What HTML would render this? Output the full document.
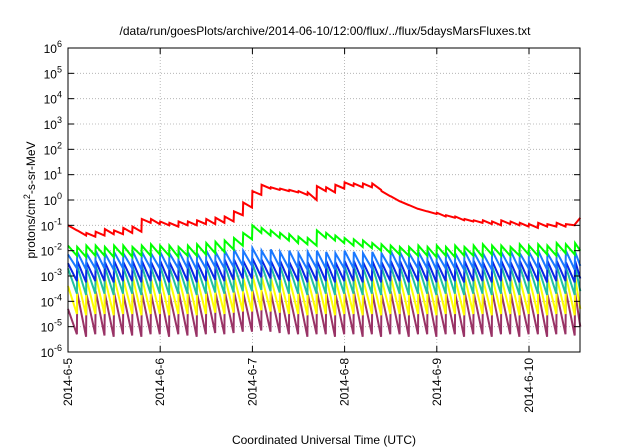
<!DOCTYPE html>
<html><head><meta charset="utf-8"><style>
html,body{margin:0;padding:0;background:#fff;}
svg{display:block;font-family:"Liberation Sans",sans-serif;}
</style></head><body>
<svg id="chart" width="640" height="448" xmlns="http://www.w3.org/2000/svg">
<text x="325" y="35" font-size="12" text-anchor="middle">/data/run/goesPlots/archive/2014-06-10/12:00/flux/../flux/5daysMarsFluxes.txt</text>
<text x="324" y="444" font-size="12" text-anchor="middle">Coordinated Universal Time (UTC)</text>
<text transform="translate(35,200) rotate(-90)" font-size="12" text-anchor="middle">protons/cm<tspan dy="-5" font-size="9">2</tspan><tspan dy="5">-s-sr-MeV</tspan></text>
<g id="grid"></g><g id="series"></g><g id="axes"></g>
</svg>
<script>
const dayLabels=["2014-6-5","2014-6-6","2014-6-7","2014-6-8","2014-6-9","2014-6-10"];
const yExponents=[-6,-5,-4,-3,-2,-1,0,1,2,3,4,5,6];
const toothTimes=[0.0,0.1,0.2,0.3,0.4,0.5,0.6,0.7,0.8,0.9,1.0,1.1,1.2,1.3,1.4,1.5,1.6,1.7,1.8,1.9,2.0,2.1,2.2,2.3,2.4,2.5,2.6,2.7,2.8,2.9,3.0,3.1,3.2,3.3,3.4,3.5,3.6,3.7,3.8,3.9,4.0,4.1,4.2,4.3,4.4,4.5,4.6,4.7,4.8,4.9,5.0,5.1,5.2,5.3,5.4,5.5];
const endTime=5.56;
// log10 flux at start (peak) and end (trough) of each tooth
const redPeak=[-1.0,-1.2,-1.3,-1.25,-1.15,-1.2,-1.1,-1.05,-0.75,-0.75,-0.85,-0.9,-0.85,-0.85,-0.8,-0.75,-0.7,-0.65,-0.45,-0.1,0.35,0.6,0.5,0.45,0.4,0.35,0.3,0.55,0.5,0.6,0.7,0.65,0.65,0.65,0.35,0.15,-0.05,-0.2,-0.35,-0.45,-0.5,-0.6,-0.65,-0.75,-0.8,-0.8,-0.85,-0.8,-0.85,-0.9,-0.95,-0.9,-0.95,-0.9,-0.95,-0.95];
const redTrough=[-1.2,-1.4,-1.45,-1.4,-1.35,-1.35,-1.3,-1.25,-0.9,-0.95,-1.0,-1.05,-1.0,-1.0,-0.95,-0.95,-0.9,-0.85,-0.6,-0.3,0.2,0.45,0.4,0.35,0.3,0.2,0.0,0.35,0.3,0.45,0.55,0.5,0.5,0.4,0.15,-0.05,-0.2,-0.35,-0.45,-0.55,-0.65,-0.7,-0.8,-0.85,-0.9,-0.95,-1.0,-0.95,-1.0,-1.05,-1.1,-1.05,-1.05,-1.05,-1.0,-0.7];
const greenPeak=[-1.8,-1.85,-1.8,-1.8,-1.85,-1.8,-1.8,-1.85,-1.8,-1.75,-1.8,-1.8,-1.85,-1.8,-1.75,-1.7,-1.65,-1.6,-1.5,-1.3,-1.0,-1.1,-1.2,-1.3,-1.35,-1.45,-1.5,-1.2,-1.3,-1.4,-1.5,-1.55,-1.6,-1.7,-1.75,-1.8,-1.85,-1.85,-1.8,-1.85,-1.8,-1.85,-1.8,-1.85,-1.8,-1.75,-1.8,-1.8,-1.85,-1.75,-1.8,-1.75,-1.8,-1.7,-1.75,-1.7];
const greenTrough=[-2.2,-2.25,-2.2,-2.2,-2.25,-2.2,-2.25,-2.2,-2.2,-2.15,-2.2,-2.25,-2.2,-2.2,-2.15,-2.1,-2.05,-1.95,-1.8,-1.55,-1.3,-1.4,-1.5,-1.6,-1.7,-1.75,-1.8,-1.5,-1.6,-1.7,-1.8,-1.85,-1.9,-2.0,-2.1,-2.15,-2.2,-2.2,-2.2,-2.25,-2.2,-2.25,-2.2,-2.2,-2.25,-2.15,-2.2,-2.2,-2.2,-2.15,-2.2,-2.15,-2.2,-2.1,-2.15,-2.0];
const lightBluePeak=[-2.15,-2.05,-2.1,-2.0,-2.1,-2.05,-2.1,-2.0,-2.05,-2.1,-2.05,-2.1,-2.0,-2.05,-2.1,-2.0,-2.05,-2.0,-1.95,-2.0,-1.9,-2.0,-1.95,-2.05,-2.0,-2.1,-2.05,-2.0,-2.05,-2.1,-2.0,-2.05,-2.1,-2.05,-2.1,-2.0,-2.05,-2.1,-2.05,-2.0,-2.1,-2.05,-2.1,-2.0,-2.05,-2.1,-2.0,-2.05,-2.0,-2.1,-2.05,-2.0,-2.1,-2.05,-2.0,-2.05];
const lightBlueTrough=[-2.7,-2.75,-2.7,-2.7,-2.75,-2.7,-2.7,-2.75,-2.7,-2.7,-2.75,-2.7,-2.7,-2.75,-2.7,-2.65,-2.7,-2.65,-2.6,-2.6,-2.55,-2.6,-2.65,-2.7,-2.7,-2.75,-2.7,-2.7,-2.75,-2.7,-2.7,-2.75,-2.7,-2.75,-2.7,-2.7,-2.75,-2.7,-2.7,-2.75,-2.7,-2.7,-2.75,-2.7,-2.7,-2.75,-2.7,-2.7,-2.75,-2.7,-2.7,-2.75,-2.7,-2.7,-2.75,-2.6];
const bluePeak=[-2.5,-2.4,-2.45,-2.4,-2.45,-2.4,-2.45,-2.4,-2.4,-2.45,-2.4,-2.45,-2.4,-2.4,-2.45,-2.4,-2.4,-2.35,-2.35,-2.4,-2.3,-2.35,-2.4,-2.4,-2.45,-2.4,-2.45,-2.4,-2.4,-2.45,-2.4,-2.4,-2.45,-2.4,-2.45,-2.4,-2.4,-2.45,-2.4,-2.4,-2.45,-2.4,-2.45,-2.4,-2.4,-2.45,-2.4,-2.4,-2.45,-2.4,-2.4,-2.45,-2.4,-2.4,-2.45,-2.4];
const blueTrough=[-3.2,-3.25,-3.2,-3.2,-3.25,-3.2,-3.2,-3.25,-3.2,-3.2,-3.25,-3.2,-3.2,-3.25,-3.2,-3.15,-3.2,-3.15,-3.1,-3.1,-3.05,-3.1,-3.15,-3.2,-3.2,-3.25,-3.2,-3.2,-3.25,-3.2,-3.2,-3.25,-3.2,-3.25,-3.2,-3.2,-3.25,-3.2,-3.2,-3.25,-3.2,-3.2,-3.25,-3.2,-3.2,-3.25,-3.2,-3.2,-3.25,-3.2,-3.2,-3.25,-3.2,-3.2,-3.25,-3.1];
const tealPeak=[-2.7,-2.6,-2.65,-2.6,-2.65,-2.6,-2.65,-2.6,-2.6,-2.65,-2.6,-2.65,-2.6,-2.6,-2.65,-2.6,-2.6,-2.55,-2.55,-2.6,-2.5,-2.55,-2.6,-2.6,-2.65,-2.6,-2.65,-2.6,-2.6,-2.65,-2.6,-2.6,-2.65,-2.6,-2.65,-2.6,-2.6,-2.65,-2.6,-2.6,-2.65,-2.6,-2.65,-2.6,-2.6,-2.65,-2.6,-2.6,-2.65,-2.6,-2.6,-2.65,-2.6,-2.6,-2.65,-2.6];
const tealTrough=[-3.7,-3.75,-3.7,-3.7,-3.75,-3.7,-3.7,-3.75,-3.7,-3.7,-3.75,-3.7,-3.7,-3.75,-3.7,-3.65,-3.7,-3.65,-3.6,-3.6,-3.55,-3.6,-3.65,-3.7,-3.7,-3.75,-3.7,-3.7,-3.75,-3.7,-3.7,-3.75,-3.7,-3.75,-3.7,-3.7,-3.75,-3.7,-3.7,-3.75,-3.7,-3.7,-3.75,-3.7,-3.7,-3.75,-3.7,-3.7,-3.75,-3.7,-3.7,-3.75,-3.7,-3.7,-3.75,-3.6];
const yellowPeak=[-3.4,-3.05,-3.1,-3.0,-3.1,-3.05,-3.1,-3.0,-3.05,-3.1,-3.05,-3.1,-3.0,-3.05,-3.1,-3.0,-3.05,-3.0,-3.0,-3.05,-2.95,-3.0,-3.05,-3.05,-3.1,-3.05,-3.1,-3.0,-3.05,-3.1,-3.05,-3.0,-3.1,-3.05,-3.1,-3.0,-3.05,-3.1,-3.05,-3.0,-3.1,-3.05,-3.1,-3.0,-3.05,-3.1,-3.0,-3.05,-3.05,-3.1,-3.05,-3.0,-3.1,-3.05,-3.0,-3.05];
const yellowTrough=[-4.5,-4.55,-4.5,-4.5,-4.55,-4.5,-4.5,-4.55,-4.5,-4.5,-4.55,-4.5,-4.5,-4.55,-4.5,-4.45,-4.5,-4.45,-4.4,-4.4,-4.35,-4.4,-4.45,-4.5,-4.5,-4.55,-4.5,-4.5,-4.55,-4.5,-4.5,-4.55,-4.5,-4.55,-4.5,-4.5,-4.55,-4.5,-4.5,-4.55,-4.5,-4.5,-4.55,-4.5,-4.5,-4.55,-4.5,-4.5,-4.55,-4.5,-4.5,-4.55,-4.5,-4.5,-4.55,-4.3];
const magentaPeak=[-4.3,-3.65,-3.7,-3.6,-3.7,-3.65,-3.7,-3.6,-3.65,-3.7,-3.65,-3.7,-3.6,-3.65,-3.7,-3.6,-3.65,-3.6,-3.6,-3.65,-3.55,-3.6,-3.65,-3.65,-3.7,-3.65,-3.7,-3.6,-3.65,-3.7,-3.65,-3.6,-3.7,-3.65,-3.7,-3.6,-3.65,-3.7,-3.65,-3.6,-3.7,-3.65,-3.7,-3.6,-3.65,-3.7,-3.6,-3.65,-3.65,-3.7,-3.65,-3.6,-3.7,-3.65,-3.6,-3.65];
const magentaTrough=[-5.3,-5.4,-5.3,-5.35,-5.4,-5.3,-5.35,-5.4,-5.3,-5.3,-5.4,-5.3,-5.35,-5.4,-5.3,-5.25,-5.3,-5.25,-5.2,-5.2,-5.15,-5.2,-5.25,-5.3,-5.3,-5.4,-5.3,-5.3,-5.4,-5.3,-5.3,-5.4,-5.3,-5.4,-5.3,-5.3,-5.4,-5.3,-5.3,-5.4,-5.3,-5.3,-5.4,-5.3,-5.3,-5.4,-5.3,-5.3,-5.4,-5.3,-5.3,-5.4,-5.3,-5.3,-5.35,-5.0];

const NS='http://www.w3.org/2000/svg';
const L=68,R=580,T=48,B=352,DAY=92.2;
const xs=t=>L+t*DAY;
const ys=lg=>B-(lg-(-6))*(B-T)/12;
function mk(tag,attrs,parent){const e=document.createElementNS(NS,tag);for(const k in attrs)e.setAttribute(k,attrs[k]);parent.appendChild(e);return e;}
const grid=document.getElementById('grid'),axes=document.getElementById('axes'),ser=document.getElementById('series');
yExponents.forEach(ex=>{
  const y=ys(ex);
  if(ex>-6&&ex<6){const g=mk('line',{x1:L,x2:R,y1:y,y2:y,stroke:'#aaa','stroke-width':0.8,'stroke-dasharray':'1,2'},grid);
  
  }
  const t1=mk('line',{x1:L,x2:L+6,y1:y,y2:y,stroke:'#000'},axes);
  
  
  const t2=mk('line',{x1:R,x2:R-6,y1:y,y2:y,stroke:'#000'},axes);
  
  
  const tx=mk('text',{x:62,y:y+5,'font-size':12,'text-anchor':'end'},axes);
  
  
  tx.appendChild(document.createTextNode('10'));
  const sp=mk('tspan',{dy:-6,'font-size':9},tx);sp.textContent=String(ex);
});
dayLabels.forEach((d,i)=>{
  const x=xs(i);
  if(i>0){const g=mk('line',{x1:x,x2:x,y1:T,y2:B,stroke:'#aaa','stroke-width':0.8,'stroke-dasharray':'1,2'},grid);
  
  }
  const t1=mk('line',{x1:x,x2:x,y1:B,y2:B-6,stroke:'#000'},axes);
  
  
  const t2=mk('line',{x1:x,x2:x,y1:T,y2:T+6,stroke:'#000'},axes);
  
  
  const tx=mk('text',{transform:`translate(${x+4},358) rotate(-90)`,'font-size':12,'text-anchor':'end'},axes);
  
  
  tx.textContent=d;
});
const fr=mk('rect',{x:L,y:T,width:R-L,height:B-T,fill:'none',stroke:'#000','stroke-width':1},axes);


const seriesList=[
 ['magenta-series',magentaPeak,magentaTrough,'#993366'],
 ['yellow-series',yellowPeak,yellowTrough,'#ffff00'],
 ['teal-series',tealPeak,tealTrough,'#20c0a0'],
 ['blue-series',bluePeak,blueTrough,'#0a28e6'],
 ['light-blue-series',lightBluePeak,lightBlueTrough,'#1a78ff'],
 ['green-series',greenPeak,greenTrough,'#00ff00'],
 ['red-series',redPeak,redTrough,'#ff0000']];
seriesList.forEach(([name,pk,tr,col])=>{
  let pts=[];
  toothTimes.forEach((t,i)=>{
    const tn=i+1<toothTimes.length?toothTimes[i+1]:endTime;
    pts.push(xs(t).toFixed(1)+','+ys(pk[i]).toFixed(1));
    pts.push(xs(tn-0.004).toFixed(1)+','+ys(tr[i]).toFixed(1));
  });
  const p=mk('polyline',{points:pts.join(' '),fill:'none',stroke:col,'stroke-width':2,'stroke-linejoin':'miter'},ser);
  
  
});
</script>
</body></html>
